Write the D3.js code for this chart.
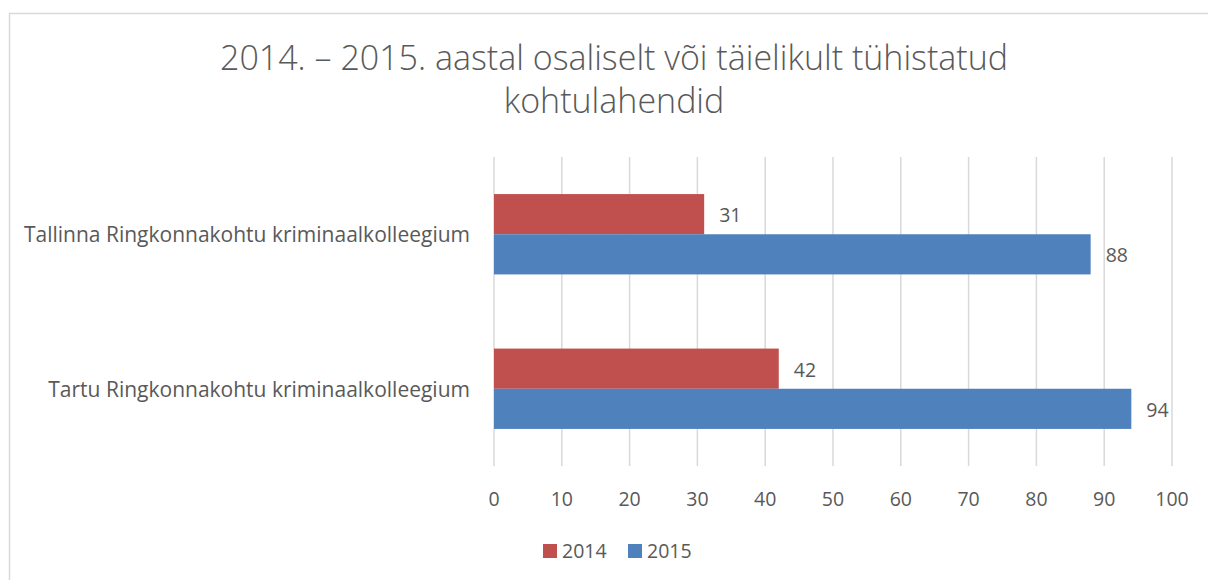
<!DOCTYPE html>
<html>
<head>
<meta charset="utf-8">
<script src="https://cdn.jsdelivr.net/npm/d3@7"></script>
<style>
    body { margin: 0; background: #fff; }
    text { font-family: "Open Sans", sans-serif; fill: #595959; }
</style>
</head>
<body>
<div id="chart"></div>
<script>
// data
let categories = ['Tallinna Ringkonnakohtu kriminaalkolleegium', 'Tartu Ringkonnakohtu kriminaalkolleegium'];
let seriesNames = ['2014', '2015'];
let values2014 = [31, 42];
let values2015 = [88, 94];
let xTicks = [0, 10, 20, 30, 40, 50, 60, 70, 80, 90, 100];
let titleLines = ['2014. – 2015. aastal osaliselt või täielikult tühistatud', 'kohtulahendid'];

let colors = ['#C0504D', '#4F81BD'];
let width = 1208, height = 580;
let margin = {top: 157, right: 36, bottom: 114, left: 494};

let svg = d3.select('#chart').append('svg')
    .attr('width', width)
    .attr('height', height);

// chart border
svg.append('rect')
    .attr('x', 9.5).attr('y', 13.5)
    .attr('width', 1220).attr('height', 600)
    .attr('fill', 'none')
    .attr('stroke', '#d9d9d9')
    .attr('stroke-width', 1.5);

// title
svg.append('text')
    .attr('text-anchor', 'middle')
    .style('font-size', '34px')
    .style('font-weight', 300)
    .selectAll('tspan')
    .data(titleLines)
    .enter().append('tspan')
    .attr('x', 614)
    .attr('y', (d, i) => 70 + i * 43)
    .text(d => d);

let x = d3.scaleLinear()
    .domain([0, 100])
    .range([margin.left, width - margin.right]);

let y = d3.scaleBand()
    .domain(categories)
    .range([margin.top, height - margin.bottom])
    .paddingInner(0.48)
    .paddingOuter(0.24);

let ySub = d3.scaleBand()
    .domain(seriesNames)
    .range([0, y.bandwidth()]);

// gridlines
svg.append('g')
    .selectAll('line')
    .data(xTicks)
    .enter().append('line')
    .attr('x1', d => x(d)).attr('x2', d => x(d))
    .attr('y1', margin.top).attr('y2', height - margin.bottom)
    .attr('stroke', '#d9d9d9')
    .attr('stroke-width', 1.5);

// tick labels
svg.append('g')
    .selectAll('text')
    .data(xTicks)
    .enter().append('text')
    .attr('x', d => x(d))
    .attr('y', 506)
    .attr('text-anchor', 'middle')
    .style('font-size', '19.5px')
    .text(d => d);

// category labels
svg.append('g')
    .selectAll('text')
    .data(categories)
    .enter().append('text')
    .attr('x', 470)
    .attr('y', d => y(d) + y.bandwidth() / 2 + 8)
    .attr('text-anchor', 'end')
    .style('font-size', '21px')
    .text(d => d);

let rows = [];
categories.forEach((c, i) => {
    rows.push({cat: c, series: '2014', value: values2014[i], color: colors[0]});
    rows.push({cat: c, series: '2015', value: values2015[i], color: colors[1]});
});

// bars
svg.append('g')
    .selectAll('rect')
    .data(rows)
    .enter().append('rect')
    .attr('x', x(0))
    .attr('y', d => y(d.cat) + ySub(d.series))
    .attr('width', d => x(d.value) - x(0))
    .attr('height', ySub.bandwidth())
    .attr('fill', d => d.color);

// value labels
svg.append('g')
    .selectAll('text')
    .data(rows)
    .enter().append('text')
    .attr('x', d => x(d.value) + 15)
    .attr('y', d => y(d.cat) + ySub(d.series) + ySub.bandwidth() / 2 + 8)
    .style('font-size', '19.5px')
    .text(d => d.value);

// legend
let legend = svg.append('g').attr('class', 'legend');
let legendX = [543, 628];
seriesNames.forEach((s, i) => {
    legend.append('rect')
        .attr('x', legendX[i]).attr('y', 544)
        .attr('width', 14).attr('height', 14)
        .attr('fill', colors[i]);
    legend.append('text')
        .attr('x', legendX[i] + 19)
        .attr('y', 558)
        .style('font-size', '19.5px')
        .text(s);
});
</script>
</body>
</html>
